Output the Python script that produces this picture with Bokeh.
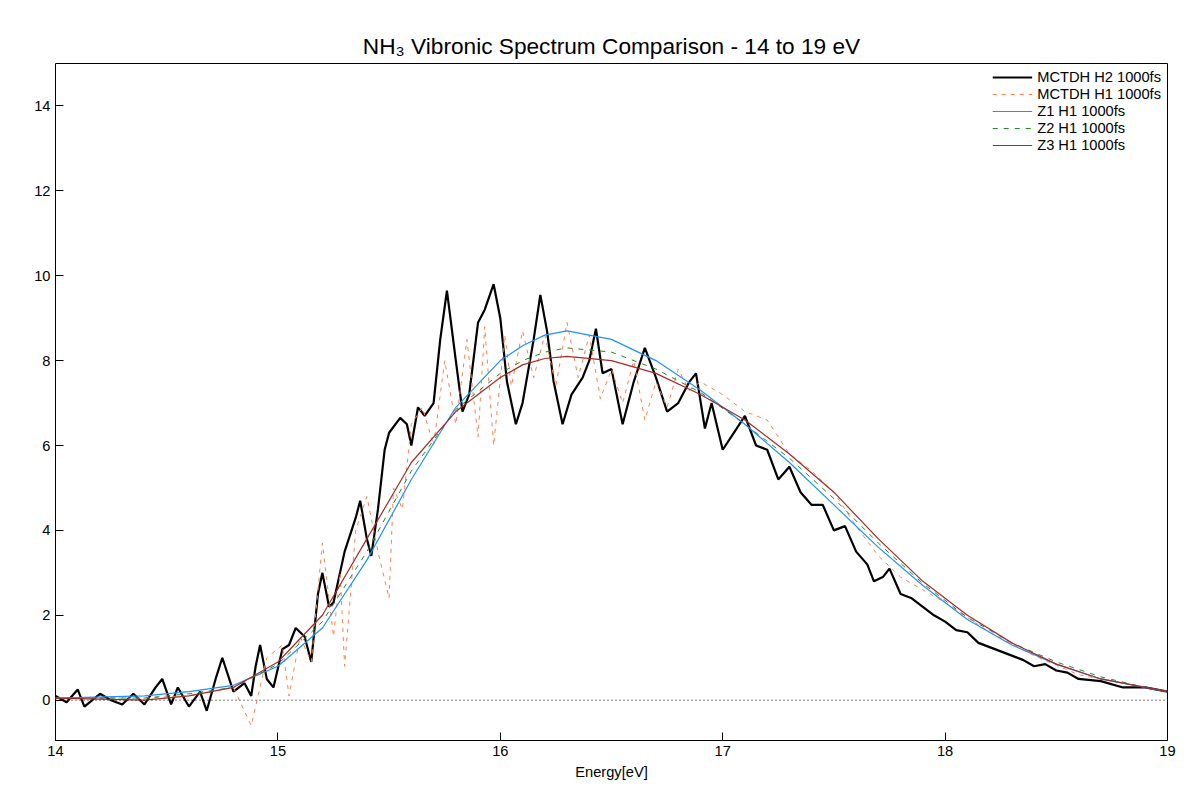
from bokeh.plotting import figure
from bokeh.models import Range1d, Span, Legend, LegendItem
from bokeh.embed import file_html
from bokeh.resources import INLINE

h2_x = [14.0,14.05,14.1,14.13,14.2,14.25,14.3,14.35,14.4,14.45,14.48,14.52,14.55,14.6,14.65,14.68,14.72,14.75,14.8,14.85,14.88,14.9,14.92,14.95,14.98,15.02,15.05,15.08,15.12,15.15,15.18,15.2,15.23,15.25,15.3,15.35,15.37,15.4,15.42,15.45,15.48,15.5,15.55,15.58,15.6,15.63,15.66,15.7,15.73,15.76,15.8,15.83,15.86,15.9,15.93,15.97,16.0,16.03,16.07,16.1,16.15,16.18,16.21,16.24,16.28,16.32,16.37,16.4,16.43,16.46,16.5,16.55,16.6,16.65,16.7,16.75,16.8,16.85,16.88,16.92,16.95,17.0,17.05,17.1,17.15,17.2,17.25,17.3,17.35,17.4,17.45,17.5,17.55,17.6,17.65,17.68,17.72,17.75,17.8,17.85,17.9,17.95,18.0,18.05,18.1,18.15,18.2,18.25,18.3,18.35,18.4,18.45,18.5,18.55,18.6,18.7,18.8,18.9,19.0]
h2_y = [0.1,-0.05,0.25,-0.15,0.15,0.0,-0.1,0.15,-0.1,0.3,0.5,-0.1,0.3,-0.15,0.2,-0.25,0.5,1.0,0.2,0.4,0.1,0.8,1.3,0.5,0.3,1.2,1.3,1.7,1.5,0.9,2.5,3.0,2.2,2.3,3.5,4.3,4.7,3.8,3.4,4.5,5.9,6.3,6.65,6.5,6.0,6.9,6.7,7.0,8.5,9.65,8.0,6.8,7.2,8.9,9.2,9.8,9.0,7.5,6.5,7.0,8.5,9.55,8.7,7.5,6.5,7.2,7.6,8.0,8.75,7.7,7.8,6.5,7.5,8.3,7.6,6.8,7.0,7.5,7.7,6.4,7.0,5.9,6.3,6.7,6.0,5.9,5.2,5.5,4.9,4.6,4.6,4.0,4.1,3.5,3.2,2.8,2.9,3.1,2.5,2.4,2.2,2.0,1.85,1.65,1.6,1.35,1.25,1.15,1.05,0.95,0.8,0.85,0.7,0.65,0.5,0.45,0.3,0.3,0.2]

h1_x = [14.0,14.2,14.4,14.6,14.8,14.88,14.95,15.02,15.05,15.1,15.15,15.2,15.25,15.28,15.3,15.35,15.4,15.45,15.5,15.52,15.56,15.6,15.65,15.7,15.75,15.8,15.85,15.9,15.93,15.97,16.02,16.05,16.1,16.15,16.2,16.25,16.3,16.35,16.4,16.45,16.5,16.55,16.6,16.65,16.7,16.75,16.8,16.85,16.9,17.0,17.1,17.2,17.3,17.4,17.5,17.6,17.7,17.8,17.9,18.0,18.2,18.4,18.6,18.8,19.0]
h1_y = [0.05,0.05,0.05,0.1,0.3,-0.6,1.0,1.3,0.1,1.5,0.9,3.7,1.5,3.0,0.8,4.0,4.8,3.5,2.4,5.0,4.5,6.5,6.9,6.0,8.0,6.5,8.5,6.2,8.8,6.0,8.6,7.4,8.7,7.6,8.6,7.4,8.9,7.6,8.6,7.1,7.8,7.0,8.0,6.6,7.5,6.9,7.8,7.3,7.5,7.2,6.8,6.6,5.8,5.4,4.9,4.1,3.4,2.9,2.6,2.3,1.6,1.05,0.6,0.4,0.2]

z_x = [14.0,14.4,14.6,14.8,15.0,15.2,15.4,15.6,15.8,16.0,16.1,16.2,16.3,16.5,16.7,16.9,17.1,17.3,17.5,17.7,17.9,18.1,18.3,18.5,18.7,18.9,19.0]
z1_y = [0.05,0.1,0.2,0.35,0.8,1.7,3.3,5.2,6.9,8.0,8.35,8.6,8.7,8.5,8.0,7.3,6.5,5.6,4.6,3.6,2.7,1.9,1.3,0.85,0.5,0.3,0.2]
z2_y = [0.05,0.05,0.15,0.3,0.85,1.85,3.5,5.4,6.85,7.7,8.0,8.2,8.3,8.2,7.8,7.25,6.5,5.7,4.75,3.7,2.75,1.95,1.35,0.9,0.55,0.3,0.2]
z3_y = [0.05,0.0,0.1,0.3,0.9,2.0,3.8,5.6,6.8,7.6,7.9,8.05,8.1,8.0,7.7,7.2,6.6,5.8,4.9,3.8,2.8,2.0,1.35,0.85,0.5,0.3,0.2]

p = figure(width=1184, height=784, output_backend="svg", toolbar_location=None,
           x_range=Range1d(14, 19), y_range=Range1d(-0.95, 15),
           title="NH₃ Vibronic Spectrum Comparison - 14 to 19 eV",
           x_axis_label="Energy[eV]", min_border_left=55, min_border_right=17,
           min_border_top=63, min_border_bottom=44)
p.title.align = "center"
p.title.text_font = "Liberation Sans"
p.title.text_font_size = "17pt"
p.title.text_font_style = "normal"
p.title.text_color = "black"
p.grid.visible = False
p.outline_line_color = "black"
p.outline_line_width = 1
for ax in (p.xaxis, p.yaxis):
    ax.axis_line_color = None
    ax.major_tick_in = 8
    ax.major_tick_out = 0
    ax.minor_tick_line_color = None
    ax.major_label_text_font = "Liberation Sans"
    ax.major_label_text_font_size = "11pt"
    ax.major_label_text_color = "black"
p.xaxis.ticker = [14, 15, 16, 17, 18, 19]
p.yaxis.ticker = [0, 2, 4, 6, 8, 10, 12, 14]
p.xaxis.axis_label_text_font = "Liberation Sans"
p.xaxis.axis_label_text_font_size = "11pt"
p.xaxis.axis_label_text_font_style = "normal"
p.xaxis.axis_label_text_color = "black"
p.xaxis.axis_label_standoff = 5

p.add_layout(Span(location=0, dimension="width", line_color="black", line_dash="1 3", line_width=1))

r1 = p.line(h2_x, h2_y, line_color="black", line_width=2.2)
r2 = p.line(h1_x, h1_y, line_color="#ff7f50", line_width=1, line_dash="4 5")
r3 = p.line(z_x, z1_y, line_color="#1e90ff", line_width=1.2)
r4 = p.line(z_x, z2_y, line_color="#228b22", line_width=1, line_dash="5 6")
r5 = p.line(z_x, z3_y, line_color="#a52a2a", line_width=1.2)

leg = Legend(items=[LegendItem(label="MCTDH H2 1000fs", renderers=[r1]),
                    LegendItem(label="MCTDH H1 1000fs", renderers=[r2]),
                    LegendItem(label="Z1 H1 1000fs", renderers=[r3]),
                    LegendItem(label="Z2 H1 1000fs", renderers=[r4]),
                    LegendItem(label="Z3 H1 1000fs", renderers=[r5])],
             location="top_right", border_line_color=None, background_fill_alpha=0,
             label_text_font="Liberation Sans", label_text_font_size="11pt",
             label_text_color="black",
             label_height=14, glyph_height=14, glyph_width=40, spacing=1, padding=4, margin=6)
p.add_layout(leg)

open("out.html", "w").write(file_html(p, INLINE))
